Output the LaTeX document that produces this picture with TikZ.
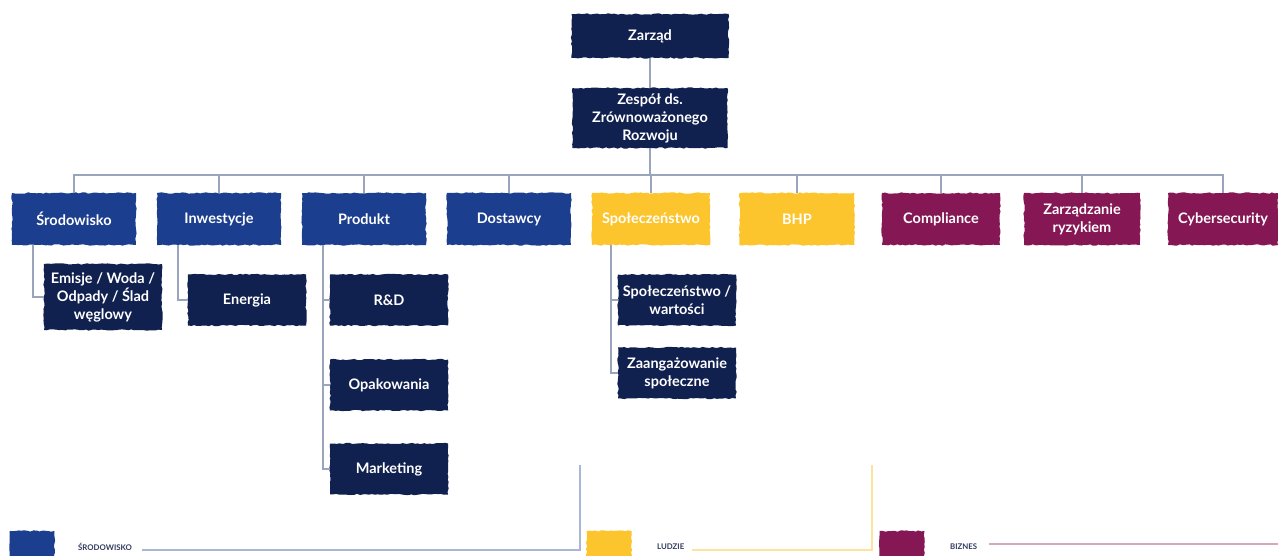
\documentclass[tikz,border=0pt]{standalone}
\usepackage{fontspec}
\setmainfont{Lato}
\usetikzlibrary{decorations.pathmorphing}
\definecolor{navy}{HTML}{10204F}
\definecolor{cblue}{HTML}{1C3E8E}
\definecolor{cyellow}{HTML}{FCC42D}
\definecolor{cmag}{HTML}{851755}
\definecolor{connc}{HTML}{9AA5BD}
\definecolor{lblue}{HTML}{A9B6D6}
\definecolor{lyellow}{HTML}{FDE3A0}
\definecolor{lpink}{HTML}{D9A6C0}
\definecolor{legtext}{HTML}{2E3A5C}
\tikzset{
  brush/.style={decorate,decoration={random steps,segment length=3pt,amplitude=0.7pt}},
  box/.style={brush,text=white,font=\fontsize{14.5}{18}\selectfont\bfseries,align=center,inner sep=0pt,minimum width=124pt,minimum height=52pt},
  bluebox/.style={box,fill=cblue},
  yelbox/.style={box,fill=cyellow},
  magbox/.style={box,fill=cmag,minimum width=118pt},
  navbox/.style={box,fill=navy,minimum width=118pt,minimum height=51pt},
  conn/.style={draw=connc,line width=1.2pt},
  legtxt/.style={font=\fontsize{7.8}{9}\selectfont\bfseries,text=legtext,anchor=west,inner sep=0pt},
  blob/.style={brush,minimum width=45pt,minimum height=28pt,inner sep=0pt}
}
\begin{document}
\begin{tikzpicture}[x=1pt,y=-1pt]
\pgfmathsetseed{7}
\useasboundingbox (0,0) rectangle (1278,556);
% top
\node[navbox,minimum width=157pt,minimum height=44pt] (zarzad) at (650,36) {Zarząd};
\node[navbox,minimum width=155pt,minimum height=60pt] (zespol) at (650,118) {Zespół ds.\\Zrównoważonego\\Rozwoju};
% row
\node[bluebox] (srod) at (74,219) {Środowisko};
\node[bluebox] (inw) at (219,219) {Inwestycje};
\node[bluebox] (prod) at (364,219) {Produkt};
\node[bluebox] (dost) at (509,219) {Dostawcy};
\node[yelbox,minimum width=118pt] (spol) at (651,219) {Społeczeństwo};
\node[yelbox,minimum width=115pt] (bhp) at (797,219) {BHP};
\node[magbox] (compl) at (941,219) {Compliance};
\node[magbox,minimum width=116pt] (ryz) at (1082,219) {Zarządzanie\\ryzykiem};
\node[magbox,minimum width=110pt] (cyber) at (1223,219) {Cybersecurity};
% sub nodes
\node[navbox,minimum height=66pt] (emis) at (103,297) {Emisje / Woda /\\Odpady / Ślad\\węglowy};
\node[navbox] (ener) at (247,300) {Energia};
\node[navbox] (rd) at (389,300) {R\&D};
\node[navbox] (opak) at (389,385) {Opakowania};
\node[navbox] (mark) at (389,469) {Marketing};
\node[navbox] (spw) at (677,300) {Społeczeństwo /\\wartości};
\node[navbox] (zaang) at (677,373) {Zaangażowanie\\społeczne};
% connectors
\draw[conn] (zarzad) -- (zespol);
\coordinate (bus) at (650,175);
\draw[conn] (zespol.south) -- (bus);
\draw[conn] (srod.north) |- (bus) -| (cyber.north);
\foreach \n in {inw,prod,dost,spol,bhp,compl,ryz}{
  \draw[conn] (\n.north) -- (\n.north |- bus);
}
\draw[conn] ([xshift=-41pt]srod.south) |- (emis.west);
\draw[conn] ([xshift=-41pt]inw.south) |- (ener.west);
\draw[conn] ([xshift=-41pt]prod.south) |- (mark.west);
\draw[conn] ([xshift=-41pt]prod.south) |- (rd.west);
\draw[conn] ([xshift=-41pt]prod.south) |- (opak.west);
\draw[conn] ([xshift=-40pt]spol.south) |- (zaang.west);
\draw[conn] ([xshift=-40pt]spol.south) |- (spw.west);
% legend
\node[blob,fill=cblue] (b1) at (32,545) {};
\node[blob,fill=cyellow] (b2) at (609,545) {};
\node[blob,fill=cmag] (b3) at (902,545) {};
\node[legtxt] (t1) at (78,547) {ŚRODOWISKO};
\node[legtxt] (t2) at (657,547) {LUDZIE};
\node[legtxt] (t3) at (950,547) {BIZNES};
\coordinate (c1) at (580,465);
\coordinate (c2) at (872,465);
\coordinate (c3) at (1278,544);
\draw[draw=lblue,line width=1.2pt] ([xshift=10pt,yshift=-3pt]t1.east) -| (c1);
\draw[draw=lyellow,line width=1.2pt] ([xshift=8pt,yshift=-3pt]t2.east) -| (c2);
\draw[draw=lpink,line width=1.2pt] ([xshift=12pt]t3.east |- c3) -- (c3);
\end{tikzpicture}
\end{document}
